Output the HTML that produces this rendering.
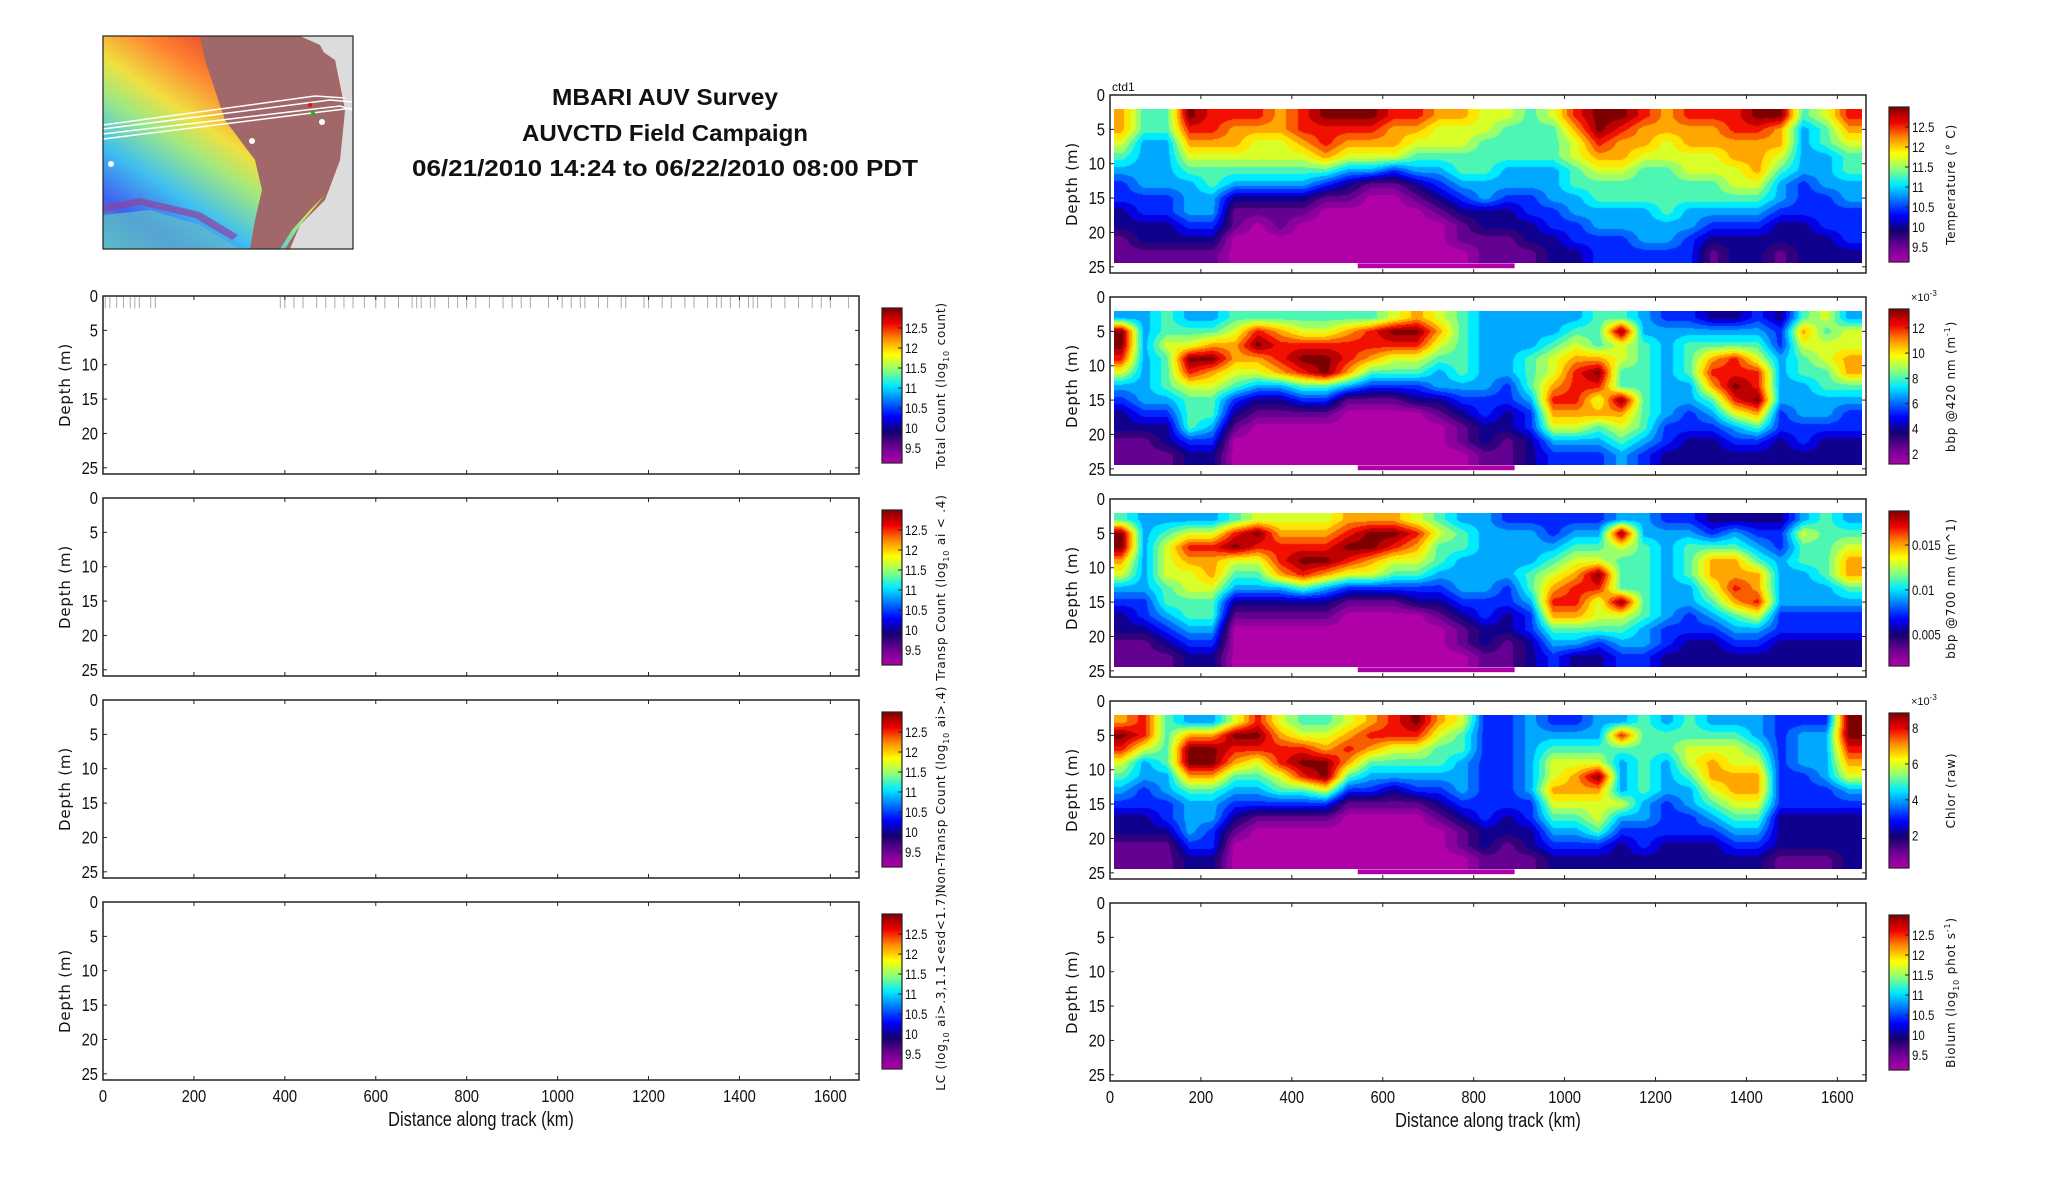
<!DOCTYPE html>
<html><head><meta charset="utf-8">
<style>
html,body{margin:0;padding:0;background:#fff;}
#wrap{position:relative;width:2052px;height:1188px;overflow:hidden;background:#fff;}
svg{position:absolute;left:0;top:0;}
canvas{position:absolute;}
text{font-family:"Liberation Sans Narrow","Liberation Sans",sans-serif;fill:#111;}
.rl{font-family:"DejaVu Sans","Liberation Sans",sans-serif;letter-spacing:0.8px;}
</style></head>
<body>
<div id="wrap">
<svg id="fig" width="2052" height="1188" viewBox="0 0 2052 1188">
  <g>
    <defs>
      <linearGradient id="rb" x1="0" y1="1" x2="0.8" y2="0">
        <stop offset="0" stop-color="#50b0c0"/><stop offset="0.15" stop-color="#4060f0"/>
        <stop offset="0.3" stop-color="#40c0f0"/><stop offset="0.45" stop-color="#a0e880"/>
        <stop offset="0.55" stop-color="#f0e040"/><stop offset="0.7" stop-color="#ff8030"/>
        <stop offset="0.85" stop-color="#e04030"/><stop offset="1" stop-color="#c06060"/>
      </linearGradient>
    </defs>
    <rect x="103" y="36" width="250" height="213" fill="url(#rb)"/>
    <path d="M103,215 L150,210 L200,225 L240,249 L103,249Z" fill="#60c0c8" opacity="0.7"/>
    <path d="M103,205 L140,198 L200,212 L238,235 L232,240 L195,218 L140,205 L103,212Z" fill="#9040a0" opacity="0.7"/>
    <path d="M200,36 L325,36 L332,60 L345,110 L342,150 L330,190 L310,210 L292,230 L280,249 L250,249 L255,220 L262,190 L255,160 L240,140 L225,120 L215,90 L205,60 Z" fill="#a06868"/>
    <path d="M300,36 L353,36 L353,249 L285,249 L300,225 L325,200 L340,160 L345,110 L335,60 Z" fill="#dcdcdc"/>
    <path d="M255,36 L300,36 L320,45 L338,80 L345,110 L340,150 L325,195 L300,225 L290,249 L285,249 L300,225 L325,200 L340,160 L345,110 L335,60 Z" fill="#a06868"/>
    <g stroke="#fff" stroke-width="1.5" fill="none">
      <path d="M103,129 L330,100 L353,102"/><path d="M103,134 L340,106 L353,110"/>
      <path d="M103,139 L320,112 L353,108"/><path d="M103,125 L315,96 L345,98"/>
    </g>
    <circle cx="111" cy="164" r="3" fill="#fff"/><circle cx="252" cy="141" r="3" fill="#fff"/>
    <circle cx="322" cy="122" r="3" fill="#fff"/><circle cx="310" cy="105" r="2" fill="#f00"/>
    <circle cx="313" cy="113" r="2" fill="#0c0"/>
    <rect x="103" y="36" width="250" height="213" fill="none" stroke="#222" stroke-width="1.2"/>
  </g>
  <g font-weight="bold" text-anchor="middle">
    <text x="665" y="105" font-size="23" font-weight="bold" textLength="226" lengthAdjust="spacingAndGlyphs">MBARI AUV Survey</text>
    <text x="665" y="141" font-size="23" font-weight="bold" textLength="286" lengthAdjust="spacingAndGlyphs">AUVCTD Field Campaign</text>
    <text x="665" y="176" font-size="23" font-weight="bold" textLength="506" lengthAdjust="spacingAndGlyphs">06/21/2010 14:24 to 06/22/2010 08:00 PDT</text>
  </g>
  <g id="plots"></g>
</svg>
</div>
<script>
// ---- data: colour levels (0 = min .. 9 = max), columns every 50 km, rows at depths 3..23 m ----
const colKm = [25,75,125,175,225,275,325,375,425,475,525,575,625,675,725,775,825,875,925,975,1025,1075,1125,1175,1225,1275,1325,1375,1425,1475,1525,1575,1625];
const rowDepth = [3,5,7,9,11,13,15,17,19,21,23];
const xTicks = [0,200,400,600,800,1000,1200,1400,1600];
const yTicks = [0,5,10,15,20,25];
const tempLevels = [
[7,7,6,5,4,3,3,2,2,1,1],[5,5,4,4,4,4,3,3,2,2,1],[5,5,4,4,4,4,3,3,2,2,1],[9,8,7,6,5,4,4,4,3,2,1],
[8,8,7,6,5,5,4,4,3,2,1],[8,7,7,6,5,4,2,1,1,0,0],[8,7,6,6,5,4,2,1,0,0,0],[7,7,6,6,5,4,2,1,1,0,0],
[8,8,7,6,5,4,2,1,0,0,0],[9,8,8,7,5,3,1,0,0,0,0],[9,8,7,6,4,2,1,0,0,0,0],[9,8,7,6,4,1,0,0,0,0,0],
[8,7,7,6,3,1,0,0,0,0,0],[8,7,6,5,4,2,1,0,0,0,0],[7,6,6,5,4,3,2,1,0,0,0],[7,6,6,5,5,4,3,2,1,1,0],
[6,6,5,5,5,4,4,2,2,1,1],[6,5,5,5,4,4,3,2,2,1,1],[5,5,5,5,4,4,3,3,2,2,1],[6,5,5,5,4,4,4,3,3,2,2],
[8,7,6,6,5,5,4,4,3,3,2],[9,9,8,7,6,5,5,4,4,3,3],[9,8,7,7,6,5,5,4,4,3,3],[8,7,7,6,5,5,5,4,4,4,3],
[7,7,6,6,5,5,5,5,4,4,3],[8,7,7,6,6,5,5,4,4,3,3],[8,7,7,6,6,5,5,4,3,2,1],[8,8,7,7,6,6,5,4,3,2,2],
[9,8,7,7,7,6,5,4,3,2,2],[9,7,7,6,5,4,4,3,2,2,1],[5,4,4,4,4,3,3,3,2,2,2],[6,5,5,4,4,4,3,3,3,2,2],
[8,7,6,5,5,4,4,3,3,3,2]];
const bbp420Levels = [
[4,9,9,8,6,4,3,2,2,1,1],[4,4,4,4,4,4,4,3,2,1,1],[5,5,6,5,5,5,4,3,2,2,1],[4,5,6,9,8,6,5,5,5,3,2],
[4,5,7,9,7,6,5,5,4,3,2],[5,6,7,7,6,5,3,2,1,0,0],[5,8,9,7,6,4,2,1,0,0,0],[5,7,8,8,7,4,2,1,0,0,0],
[5,6,8,9,8,5,3,1,0,0,0],[5,6,8,9,9,5,3,1,0,0,0],[5,7,8,8,7,4,1,0,0,0,0],[5,8,8,7,5,3,1,0,0,0,0],
[6,9,8,6,5,3,1,0,0,0,0],[7,9,8,6,5,3,2,0,0,0,0],[6,7,6,5,4,4,2,1,0,0,0],[5,5,5,5,5,4,3,2,1,1,0],
[4,4,4,4,4,4,3,3,2,2,1],[4,4,4,4,4,3,3,2,2,1,1],[4,4,4,5,5,5,4,3,3,2,2],[4,4,5,6,6,7,8,7,6,4,3],
[4,5,6,7,8,8,8,7,6,4,3],[5,5,5,7,9,8,6,7,5,4,3],[5,9,6,6,5,5,9,7,6,5,4],[4,4,5,5,5,5,5,5,5,4,3],
[3,4,4,4,4,4,4,4,3,3,2],[3,4,5,5,5,4,4,3,3,2,2],[2,4,5,7,8,7,5,4,3,2,2],[2,4,5,8,8,9,8,6,4,3,2],
[3,4,5,6,8,8,9,7,5,3,2],[2,3,3,4,4,4,4,3,3,2,2],[5,7,6,5,5,4,4,4,3,3,2],[6,5,6,6,5,5,4,4,3,2,2],
[4,6,6,7,7,5,4,3,3,2,2]];
const bbp700Levels = [
[5,9,9,7,6,4,3,2,2,1,1],[4,4,4,4,4,4,3,3,2,1,1],[4,5,6,6,6,5,5,4,3,2,1],[4,6,8,7,6,6,5,5,4,3,2],
[4,6,8,7,7,6,5,5,4,3,2],[5,8,9,6,5,4,2,1,0,0,0],[6,9,8,6,5,4,2,1,0,0,0],[6,7,8,8,7,4,2,1,0,0,0],
[6,7,8,9,8,5,2,1,0,0,0],[6,7,8,9,7,4,2,1,0,0,0],[7,8,9,8,6,3,1,0,0,0,0],[7,9,9,7,6,3,1,0,0,0,0],
[7,9,8,6,5,3,1,0,0,0,0],[6,8,7,6,5,3,2,0,0,0,0],[5,6,5,5,4,3,2,1,0,0,0],[4,5,5,4,4,4,3,2,1,1,0],
[4,4,4,4,4,4,3,3,2,2,1],[3,4,4,4,4,3,3,2,2,1,1],[3,4,4,4,5,5,4,3,3,2,2],[3,3,4,5,6,7,8,7,5,4,3],
[3,4,5,6,7,8,8,7,5,4,2],[3,4,5,6,9,8,6,6,5,3,2],[4,9,6,5,5,5,9,6,5,4,3],[4,4,5,5,5,5,5,5,4,4,3],
[3,4,4,4,4,4,4,4,3,3,2],[3,4,5,5,5,4,4,3,3,2,2],[2,3,5,7,7,6,5,4,3,2,2],[2,4,5,7,7,8,7,5,4,3,2],
[2,3,4,5,7,7,8,6,4,3,2],[2,3,3,4,4,4,4,3,3,2,2],[4,6,5,5,4,4,4,3,3,2,2],[5,5,5,5,5,4,4,3,3,2,2],
[4,5,6,7,7,5,4,3,3,2,2]];
const chlorLevels = [
[7,9,8,6,5,4,3,2,2,1,1],[8,8,6,4,4,3,3,2,2,1,1],[5,5,5,5,4,4,3,3,2,1,1],[4,7,9,9,7,5,4,4,4,3,2],
[4,7,9,9,7,5,4,4,3,3,2],[6,9,8,7,5,4,3,2,1,0,0],[8,9,8,6,5,4,3,1,0,0,0],[6,7,8,8,6,5,3,1,0,0,0],
[5,6,8,9,8,5,3,1,0,0,0],[5,6,7,9,9,6,3,1,0,0,0],[6,7,8,7,5,3,1,0,0,0,0],[7,8,7,5,4,3,1,0,0,0,0],
[8,8,6,5,4,2,1,0,0,0,0],[9,8,6,5,4,3,1,0,0,0,0],[7,6,5,5,4,3,2,1,0,0,0],[6,5,5,4,4,4,3,2,1,1,0],
[3,3,3,3,3,3,3,3,2,2,1],[3,3,3,3,3,3,3,2,2,1,1],[4,4,4,4,4,4,3,3,2,2,1],[3,4,5,6,6,7,6,5,4,3,2],
[3,4,5,6,7,7,6,5,4,3,2],[4,4,5,6,9,7,6,6,5,3,2],[4,8,5,4,4,4,6,4,3,2,2],[5,5,5,5,5,5,4,4,3,3,2],
[4,5,5,4,4,4,3,3,3,2,2],[5,5,6,6,5,4,4,3,3,2,2],[4,5,6,7,7,6,5,4,3,2,2],[4,5,6,6,7,7,6,5,4,3,2],
[4,4,5,6,7,7,6,5,4,3,2],[3,3,3,3,3,3,3,2,2,2,1],[3,4,4,4,3,3,3,2,2,2,1],[3,4,4,4,4,3,3,2,2,2,1],
[9,9,8,7,6,4,3,2,2,2,2]];
// colourbar ranges and tick labels
const logTicks = [9.5,10,10.5,11,11.5,12,12.5];
const logRange = [9.125,13.0];
const bbp420Ticks = [2,4,6,8,10,12];
const bbp420Range = [1.2,13.5];
const bbp700Ticks = [0.005,0.01,0.015];
const bbp700Range = [0.0015,0.0188];
const chlorTicks = [2,4,6,8];
const chlorRange = [0.2,8.84];
// gray marks in Total Count panel (km positions)
const countMarks = [5,15,30,45,60,70,80,105,115,390,400,420,440,470,490,510,530,550,575,600,620,650,680,690,700,720,730,760,780,800,820,850,880,900,920,940,980,1010,1030,1050,1060,1090,1110,1140,1150,1190,1200,1230,1250,1280,1300,1330,1350,1360,1380,1400,1420,1430,1440,1470,1500,1530,1560,1580,1600,1640];

const NS='http://www.w3.org/2000/svg';
const plots=document.getElementById('plots');
const wrap=document.getElementById('wrap');
function mk(tag,attrs,parent){const e=document.createElementNS(NS,tag);for(const k in attrs)e.setAttribute(k,attrs[k]);(parent||plots).appendChild(e);return e;}
const stops=[[0,[176,0,168]],[0.1,[110,0,150]],[0.2,[20,0,110]],[0.3,[0,0,255]],[0.42,[0,140,255]],[0.5,[0,235,255]],[0.6,[140,255,120]],[0.7,[255,255,0]],[0.8,[255,140,0]],[0.9,[240,0,0]],[1,[125,0,0]]];
function cmap(t){t=Math.max(0,Math.min(1,t));for(let i=1;i<stops.length;i++){if(t<=stops[i][0]){const a=stops[i-1],b=stops[i];const f=(t-a[0])/(b[0]-a[0]);return [0,1,2].map(k=>Math.round(a[1][k]+f*(b[1][k]-a[1][k])));}}return stops[stops.length-1][1];}
const KMMAX=1663, DMAX=25.9, PW=756, PH=178;
function xs(x0,km){return x0+km/KMMAX*PW;}
function ys(T,d){return T+d/DMAX*PH;}

function interp(levels,km,d){
  let fi=(km-colKm[0])/(colKm[1]-colKm[0]);fi=Math.max(0,Math.min(colKm.length-1,fi));
  let fj=(d-rowDepth[0])/(rowDepth[1]-rowDepth[0]);fj=Math.max(0,Math.min(rowDepth.length-1,fj));
  const i0=Math.floor(fi),i1=Math.min(colKm.length-1,i0+1),j0=Math.floor(fj),j1=Math.min(rowDepth.length-1,j0+1);
  const a=fi-i0,b=fj-j0;
  return (levels[i0][j0]*(1-a)+levels[i1][j0]*a)*(1-b)+(levels[i0][j1]*(1-a)+levels[i1][j1]*a)*b;
}
function narrow(t,x,y){t.setAttribute('transform',`translate(${x},${y}) scale(0.82,1)`);}

function panel(x0,T,opt){
  const g=mk('g',{});
  
  
  if(opt.levels){
    const c=document.createElement('canvas');
    const cx0=Math.round(xs(x0,8)),cx1=Math.round(xs(x0,1655)),cy0=Math.round(ys(T,2)),cy1=Math.round(ys(T,24.5));
    c.width=cx1-cx0;c.height=cy1-cy0;c.style.left=cx0+'px';c.style.top=cy0+'px';
    
    
    wrap.appendChild(c);
    const ctx=c.getContext('2d');const img=ctx.createImageData(c.width,c.height);
    for(let py=0;py<c.height;py++){const d=(cy0+py+0.5-T)/PH*DMAX;
      for(let px=0;px<c.width;px++){const km=(cx0+px+0.5-x0)/PW*KMMAX;
        let v=interp(opt.levels,km,d);v=Math.round(v*2)/2;const col=cmap(v/9);
        const o=(py*c.width+px)*4;img.data[o]=col[0];img.data[o+1]=col[1];img.data[o+2]=col[2];img.data[o+3]=255;}}
    ctx.putImageData(img,0,0);
    const strip=mk('rect',{x:xs(x0,545),y:ys(T,24.5),width:xs(x0,890)-xs(x0,545),height:ys(T,25.2)-ys(T,24.5),fill:'#b000a8'},g);
    
    
  }
  if(opt.marks){
    for(const km of countMarks){
      const m=mk('line',{x1:xs(x0,km),x2:xs(x0,km),y1:T+1,y2:ys(T,1.8),stroke:'#aaa','stroke-width':1},g);
      
      
    }
  }
  const fr=mk('rect',{x:x0,y:T,width:PW,height:PH,fill:'none',stroke:'#222','stroke-width':1.5},g);
  
  
  for(const t of xTicks){const x=xs(x0,t);
    mk('line',{x1:x,x2:x,y1:T+PH,y2:T+PH-4,stroke:'#222'},g);mk('line',{x1:x,x2:x,y1:T,y2:T+4,stroke:'#222'},g);
    if(opt.xlabels){const tl=mk('text',{x:0,y:0,'font-size':18,'text-anchor':'middle'},g);tl.textContent=t;narrow(tl,x,T+PH+22);
      
      }
  }
  for(const t of yTicks){const y=ys(T,t);
    mk('line',{x1:x0,x2:x0+4,y1:y,y2:y,stroke:'#222'},g);mk('line',{x1:x0+PW,x2:x0+PW-4,y1:y,y2:y,stroke:'#222'},g);
    const tl=mk('text',{x:0,y:0,'font-size':18,'text-anchor':'end'},g);tl.textContent=t;narrow(tl,x0-5,y+6);
    
    
  }
  const yl=mk('text',{x:0,y:0,'font-size':15,'text-anchor':'middle','class':'rl',transform:`translate(${x0-33},${T+PH/2}) rotate(-90)`},g);
  yl.textContent='Depth (m)';
  
  
  if(opt.xlabels){const xl=mk('text',{x:0,y:0,'font-size':20,'text-anchor':'middle'},g);xl.textContent='Distance along track (km)';narrow(xl,x0+PW/2,T+PH+46);
    
    }
  // colourbar
  const bx=x0+PW+23, bw=20, bt=T+12, bh=155;
  const gid='cg'+Math.round(x0)+'_'+T;
  const lg=mk('linearGradient',{id:gid,x1:0,y1:1,x2:0,y2:0},g);
  for(let i=0;i<=20;i++){const c=cmap(i/20);mk('stop',{offset:i/20,'stop-color':`rgb(${c})`},lg);}
  const cb=mk('rect',{x:bx,y:bt,width:bw,height:bh,fill:`url(#${gid})`,stroke:'#222','stroke-width':1.2},g);
  
  
  const [lo,hi]=opt.range;
  for(const t of opt.ticks){const y=bt+bh-(t-lo)/(hi-lo)*bh;
    mk('line',{x1:bx+bw-4,x2:bx+bw,y1:y,y2:y,stroke:'#222'},g);
    const tl=mk('text',{x:0,y:0,'font-size':14},g);tl.textContent=t;narrow(tl,bx+bw+3,y+5);
    
    }
  if(opt.exp){const ex=mk('text',{x:bx+bw+2,y:bt-8,'font-size':11,fill:'#444'},g);ex.innerHTML='×10<tspan dy="-5" font-size="8">-3</tspan>';
    
    }
  const cl=mk('text',{x:0,y:0,'font-size':12,'text-anchor':'middle','class':'rl',transform:`translate(${bx+bw+(opt.right?46:43)},${bt+bh/2}) rotate(-90)`},g);
  cl.innerHTML=opt.label;
  
  
}
const L0=103,R0=1110;
const sub10='<tspan dy="4" font-size="8">10</tspan><tspan dy="-4">';
panel(L0,296,{name:'total-count-panel',marks:true,ticks:logTicks,range:logRange,label:'Total Count (log'+sub10+' count)</tspan>'});
panel(L0,498,{name:'transp-count-panel',ticks:logTicks,range:logRange,label:'Transp Count (log'+sub10+' ai &lt; .4)</tspan>'});
panel(L0,700,{name:'nontransp-count-panel',ticks:logTicks,range:logRange,label:'Non-Transp Count (log'+sub10+' ai&gt;.4)</tspan>'});
panel(L0,902,{name:'lc-panel',xlabels:true,ticks:logTicks,range:logRange,label:'LC (log'+sub10+' ai&gt;.3,1.1&lt;esd&lt;1.7)</tspan>'});
panel(R0,95,{name:'temperature-panel',right:true,levels:tempLevels,ticks:logTicks,range:logRange,label:'Temperature (° C)'});
panel(R0,297,{name:'bbp420-panel',right:true,levels:bbp420Levels,ticks:bbp420Ticks,range:bbp420Range,exp:true,label:'bbp @420 nm (m<tspan dy="-5" font-size="8">-1</tspan><tspan dy="5">)</tspan>'});
panel(R0,499,{name:'bbp700-panel',right:true,levels:bbp700Levels,ticks:bbp700Ticks,range:bbp700Range,label:"bbp @700 nm (m^1)"});
panel(R0,701,{name:'chlor-panel',right:true,levels:chlorLevels,ticks:chlorTicks,range:chlorRange,exp:true,label:'Chlor (raw)'});
panel(R0,903,{name:'biolum-panel',right:true,xlabels:true,ticks:logTicks,range:logRange,label:'Biolum (log'+sub10+' phot s</tspan><tspan dy="-5" font-size="8">-1</tspan><tspan dy="5">)</tspan>'});
const ct=mk('text',{x:R0+2,y:91,'font-size':12});ct.textContent='ctd1';


</script>
</body></html>
